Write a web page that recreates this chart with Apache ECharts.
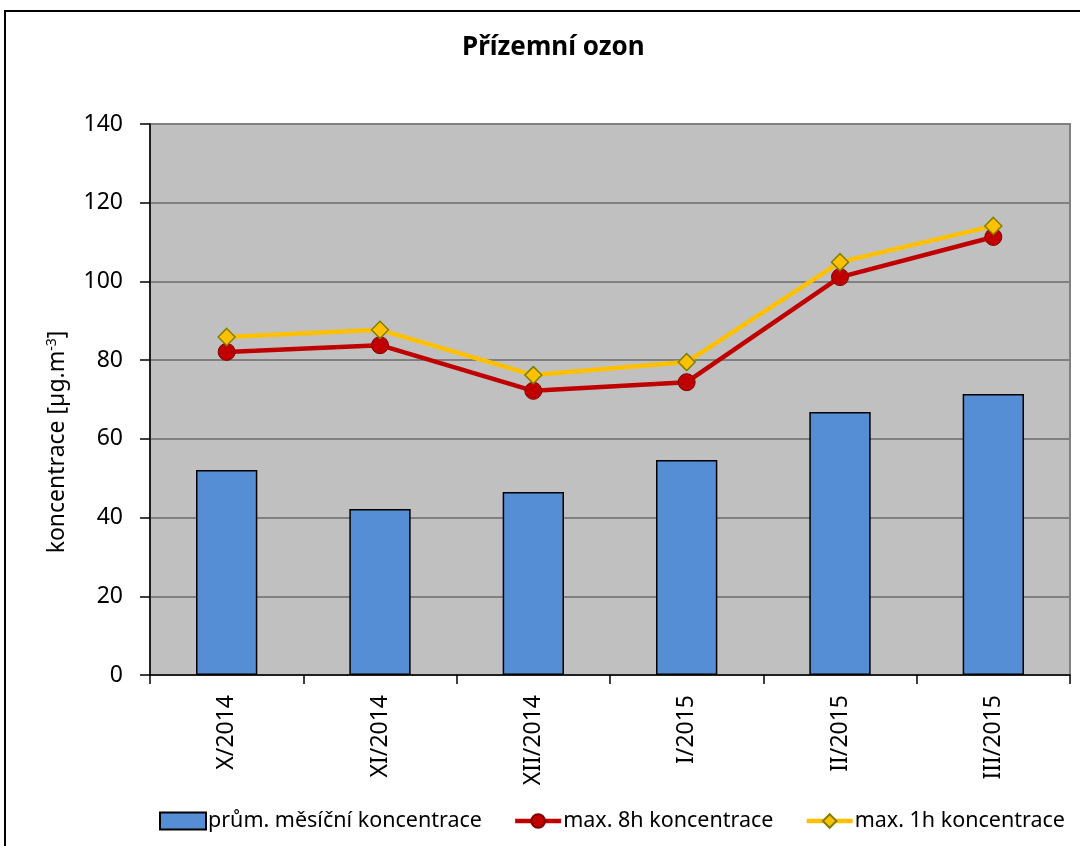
<!DOCTYPE html>
<html>
<head>
    <meta charset="utf-8">
    <title>Přízemní ozon</title>
    <script src="https://cdn.jsdelivr.net/npm/echarts@6/dist/echarts.min.js"></script>
    <style>
        body { margin: 0; background: #fff; }
        #chart { width: 1080px; height: 846px; }
    </style>
</head>
<body>
    <div id="chart"></div>
    <script type="text/javascript">
        var months = ["X/2014", "XI/2014", "XII/2014", "I/2015", "II/2015", "III/2015"];
        var avgMonthly = [52.1, 42.2, 46.5, 54.6, 66.8, 71.4];
        var max8h = [82.1, 83.8, 72.2, 74.4, 101.1, 111.3];
        var max1h = [85.9, 87.7, 76.2, 79.5, 104.9, 114.1];

        var font = "Noto Sans";
        var myChart = echarts.init(document.getElementById("chart"));

        var option = {
            animation: false,
            textStyle: { fontFamily: font, color: "#000" },
            title: {
                text: "Přízemní ozon",
                left: 457,
                top: 30,
                textStyle: { fontFamily: font, fontSize: 26, fontWeight: "bold", color: "#000" }
            },
            graphic: [
                {
                    type: "rect",
                    shape: { x: 5, y: 11, width: 1090, height: 850 },
                    style: { fill: "none", stroke: "#000", lineWidth: 2 },
                    silent: true
                },
                {
                    // axis title, placed like the original (not centred on the axis)
                    type: "text",
                    x: 57,
                    y: 442,
                    rotation: Math.PI / 2,
                    style: {
                        text: "koncentrace [µg.m{sup|-3}]",
                        align: "center",
                        verticalAlign: "middle",
                        fontFamily: font,
                        fontSize: 23,
                        fill: "#000",
                        rich: { sup: { fontSize: 14, fontFamily: font, fill: "#000", verticalAlign: "top", padding: [0, 0, 10, 0] } }
                    },
                    silent: true
                }
            ],
            legend: {
                left: 154,
                top: 805,
                itemWidth: 46,
                itemHeight: 17,
                itemGap: 31,
                textStyle: { fontFamily: font, fontSize: 21.5, color: "#000", padding: [0, 0, 0, -3] },
                data: [
                    { name: "prům. měsíční koncentrace", icon: "rect" },
                    { name: "max. 8h koncentrace", lineStyle: { width: 4.5 } },
                    { name: "max. 1h koncentrace", lineStyle: { width: 4.5 } }
                ]
            },
            grid: {
                left: 150, right: 10, top: 124, bottom: 171,
                show: true, backgroundColor: "#C0C0C0", borderColor: "#808080", borderWidth: 2
            },
            xAxis: {
                type: "category",
                data: months,
                axisLine: { lineStyle: { color: "#000", width: 1.5 } },
                axisTick: { show: true, length: 9, alignWithLabel: false, lineStyle: { color: "#000", width: 1.5 } },
                axisLabel: { rotate: 90, fontSize: 23, color: "#000", margin: 20, fontFamily: font }
            },
            yAxis: {
                type: "value",
                min: 0,
                max: 140,
                interval: 20,
                axisLine: { show: true, lineStyle: { color: "#000", width: 1.5 } },
                axisTick: { show: true, inside: false, length: 10, lineStyle: { color: "#000", width: 1.5 } },
                axisLabel: { fontSize: 23, color: "#000", margin: 27, fontFamily: font },
                splitLine: { lineStyle: { color: "#808080", width: 2 } }
            },
            series: [
                {
                    name: "prům. měsíční koncentrace",
                    type: "bar",
                    data: avgMonthly,
                    barWidth: "40%",
                    itemStyle: { color: "#558ED5", borderColor: "#000", borderWidth: 1.5 }
                },
                {
                    name: "max. 8h koncentrace",
                    type: "line",
                    data: max8h,
                    symbol: "circle",
                    symbolSize: 17,
                    lineStyle: { color: "#C00000", width: 4.5 },
                    itemStyle: { color: "#C00000", borderColor: "#800000", borderWidth: 1 }
                },
                {
                    name: "max. 1h koncentrace",
                    type: "line",
                    data: max1h,
                    symbol: "diamond",
                    symbolSize: 17,
                    lineStyle: { color: "#FFC000", width: 4.5 },
                    itemStyle: { color: "#FFC000", borderColor: "#808000", borderWidth: 1.5 }
                }
            ]
        };
        myChart.setOption(option);
    </script>
</body>
</html>
